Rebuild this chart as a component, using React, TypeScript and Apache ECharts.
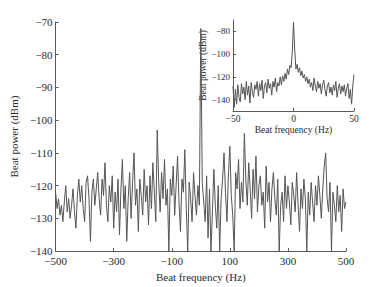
import React, { useEffect, useRef } from "react";
import * as echarts from "echarts";

// Main spectrum: -500..500 Hz, 5 Hz step
const mainStart = -500;
const mainStep = 5;
const mainPower = [
  -122, -127, -124, -129, -126, -131, -125, -120, -128, -124,
  -130, -126, -121, -128, -133, -123, -118, -125, -120, -127,
  -131, -119, -117, -124, -137, -122, -118, -126, -121, -116,
  -124, -129, -118, -123, -113, -126, -131, -120, -125, -117,
  -133, -122, -128, -118, -135, -121, -112, -127, -120, -137,
  -124, -116, -130, -119, -110, -126, -121, -134, -118, -123,
  -129, -115, -125, -120, -132, -117, -127, -113, -122, -131,
  -103, -119, -128, -116, -124, -112, -126, -121, -140, -118,
  -123, -114, -129, -120, -111, -125, -134, -118, -122, -109,
  -127, -140, -119, -124, -131, -116, -123, -129, -120, -126,
  -72,
  -119, -125, -131, -117, -136, -121, -140, -128, -115, -126,
  -133, -120, -140, -124, -118, -110, -122, -131, -117, -108,
  -123, -129, -140, -116, -121, -112, -127, -119, -125, -104,
  -118, -126, -113, -121, -130, -115, -124, -111, -128, -120,
  -117, -126, -122, -133, -114, -125, -119, -131, -121, -116,
  -124, -129, -118, -140, -126, -122, -131, -117, -127, -120,
  -125, -132, -119, -123, -128, -116, -126, -134, -121, -127,
  -118, -124, -140, -122, -129, -119, -125, -131, -120, -126,
  -117, -123, -130, -121, -114, -110, -124, -128, -119, -140,
  -122, -126, -131, -120, -128, -123, -134, -121, -127, -125,
];

// Inset spectrum: -50..50 Hz, 1 Hz step
const insetStart = -50;
const insetStep = 1;
const insetPower = [
  -128, -147, -131, -144, -127, -138, -142, -126, -135, -129,
  -140, -124, -136, -128, -143, -125, -133, -138, -127, -131,
  -124, -137, -126, -132, -123, -139, -128, -125, -134, -122,
  -130, -126, -136, -124, -129, -121, -133, -125, -128, -120,
  -127, -119, -124, -117, -122, -113, -118, -110, -112, -98,
  -72,
  -96, -113, -109, -116, -112, -119, -115, -121, -118, -124,
  -120, -126, -122, -129, -125, -132, -121, -128, -133, -124,
  -130, -126, -135, -127, -123, -131, -137, -128, -125, -134,
  -129, -136, -127, -132, -124, -138, -130, -126, -135, -128,
  -133, -127, -137, -130, -126, -139, -131, -144, -128, -118,
];

const mainXTicks = [-500, -300, -100, 100, 300, 500];
const mainYTicks = [-140, -130, -120, -110, -100, -90, -80, -70];
const insetXTicks = [-50, 0, 50];
const insetYTicks = [-140, -120, -100, -80];

const FONT = "Liberation Serif";
const TEXT = "#2a2a2a";
const AXIS = "#5a5a5a";
const LINE = "#555555";

const fmt = (v: number) => String(v).replace("-", "\u2212");

export default function App() {
  const ref = useRef<HTMLDivElement>(null);
  useEffect(() => {
    if (!ref.current) return;
    const chart = echarts.init(ref.current, undefined, { renderer: "svg" });
    const mainData = mainPower.map((v, i) => [mainStart + i * mainStep, v]);
    const insetData = insetPower.map((v, i) => [insetStart + i * insetStep, v]);
    const base = (fs: number) => ({
      axisLine: { show: true, onZero: false, lineStyle: { color: AXIS, width: 1 } },
      splitLine: { show: false },
      nameTextStyle: { fontFamily: FONT, fontSize: fs, color: TEXT },
      nameLocation: "middle",
    });
    const ticks = (vals: number[]) => ({
      show: true, inside: true, length: 3, lineStyle: { color: AXIS }, customValues: vals,
    });
    const labels = (vals: number[], fs: number, margin = 3) => ({
      fontFamily: FONT, fontSize: fs, color: TEXT, formatter: fmt, margin, customValues: vals,
    });
    chart.setOption({
      animation: false,
      backgroundColor: "#ffffff",
      grid: [
        { left: 49, right: 36, top: 22, bottom: 32 },
        { left: 233, right: 28, top: 20, bottom: 176 },
      ],
      xAxis: [
        {
          ...base(11),
          type: "value",
          gridIndex: 0,
          min: -500,
          max: 500,
          name: "Beat frequency (Hz)",
          nameGap: 16,
          axisTick: ticks(mainXTicks),
          axisLabel: labels(mainXTicks, 11, 4),
        },
        {
          ...base(9.5),
          type: "value",
          gridIndex: 1,
          min: -50,
          max: 50,
          name: "Beat frequency (Hz)",
          nameGap: 9,
          axisTick: ticks(insetXTicks),
          axisLabel: labels(insetXTicks, 9.5),
        },
      ],
      yAxis: [
        {
          ...base(11),
          type: "value",
          gridIndex: 0,
          min: -140,
          max: -70,
          name: "Beat power (dBm)",
          nameGap: 30,
          axisTick: ticks(mainYTicks),
          axisLabel: labels(mainYTicks, 11),
        },
        {
          ...base(9.5),
          type: "value",
          gridIndex: 1,
          min: -150,
          max: -70,
          name: "Beat power (dBm)",
          nameGap: 25,
          axisTick: ticks(insetYTicks),
          axisLabel: labels(insetYTicks, 9),
        },
      ],
      series: [
        {
          type: "line",
          xAxisIndex: 0,
          yAxisIndex: 0,
          data: mainData,
          showSymbol: false,
          symbol: "none",
          lineStyle: { color: LINE, width: 1 },
        },
        {
          type: "line",
          xAxisIndex: 1,
          yAxisIndex: 1,
          data: insetData,
          showSymbol: false,
          symbol: "none",
          lineStyle: { color: LINE, width: 1 },
        },
      ],
    });
    return () => chart.dispose();
  }, []);
  return <div ref={ref} style={{ width: 382, height: 287, position: "absolute", left: 0, top: 0 }} />;
}
